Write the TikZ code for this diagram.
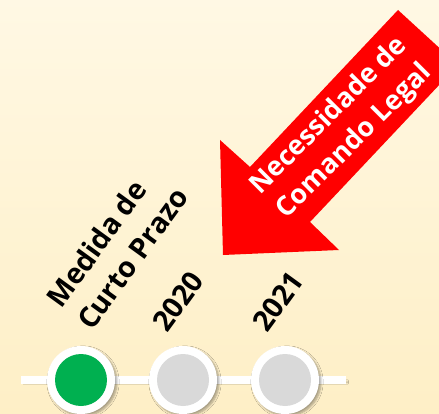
\documentclass[tikz,border=0pt]{standalone}
\usepackage{fontspec}
\setmainfont{Open Sans}
\usetikzlibrary{shadows.blur}
\definecolor{bgtop}{RGB}{255,248,228}
\definecolor{bgbot}{RGB}{254,239,198}
\definecolor{dotgreen}{RGB}{0,176,80}
\definecolor{dotgray}{RGB}{217,217,217}
\tikzset{
  lbl/.style={font=\bfseries\fontsize{28.5}{38}\selectfont, text=black, inner sep=0pt, rotate=54, align=left},
  ring/.style={circle, fill=white, minimum size=68pt, inner sep=0pt, blur shadow={shadow xshift=2pt, shadow yshift=-2pt, shadow blur steps=6, shadow opacity=35}},
  dot/.style={circle, minimum size=52pt, inner sep=0pt},
  arrowtxt/.style={font=\bfseries\fontsize{27}{36}\selectfont, text=white, align=center, rotate=45, inner sep=0pt}
}
\begin{document}
\begin{tikzpicture}[x=1pt,y=-1pt]
\useasboundingbox (0,0) rectangle (439,414);
\clip (0,0) rectangle (439,414);
\shade[top color=bgtop, bottom color=bgbot] (0,0) rectangle (439,414);
% arrow
\fill[red] (223,255) -- (220,140) -- (250,167) -- (398,10) -- (458,65) -- (310,222) -- (339,250) -- cycle;
\node[arrowtxt] (legal) at (342,129) {Necessidade de\\Comando Legal};
% timeline
\coordinate (ls) at (21,380);
\coordinate (le) at (346,380);
\draw[white, line width=8pt, blur shadow={shadow xshift=2pt, shadow yshift=-2pt, shadow blur steps=6, shadow opacity=30}] (ls) -- (le);
\node[ring] (r1) at (81,380) {};
\node[ring] (r2) at (183,380) {};
\node[ring] (r3) at (285,380) {};
\node[dot, fill=dotgreen] (d1) at (r1) {};
\node[dot, fill=dotgray] (d2) at (r2) {};
\node[dot, fill=dotgray] (d3) at (r3) {};
% labels
\node[lbl, anchor=base west] (l1) at (92,332) {Medida de\\Curto Prazo};
\node[lbl, anchor=base west] (l2) at (167,334) {2020};
\node[lbl, anchor=base west] (l3) at (267,334) {2021};
\end{tikzpicture}
\end{document}
